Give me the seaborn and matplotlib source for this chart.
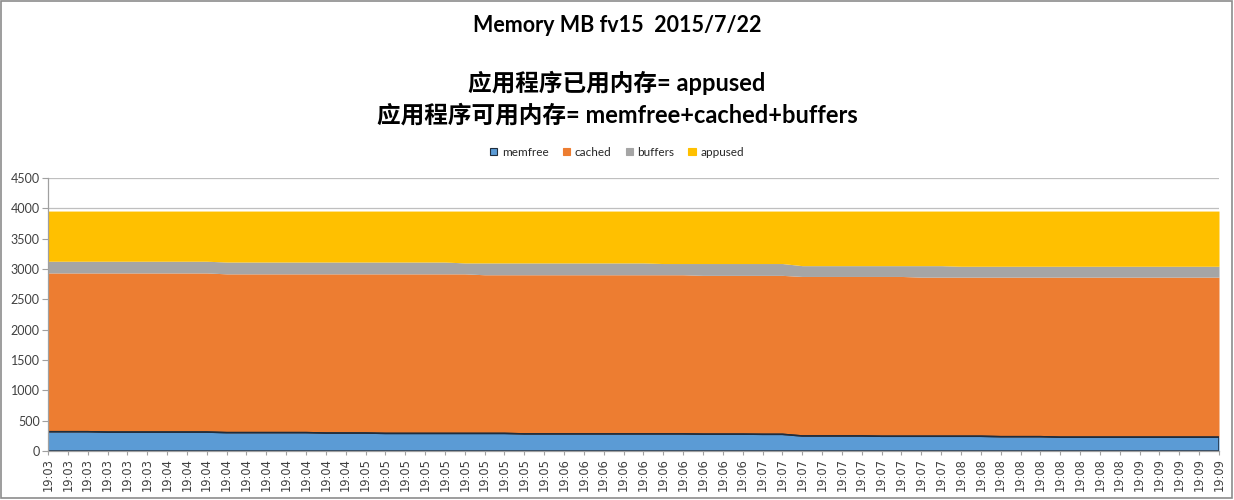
import matplotlib
matplotlib.use("Agg")
import matplotlib.pyplot as plt
from matplotlib.patches import Rectangle
import seaborn as sns
import numpy as np
import pandas as pd

# sample times (one label per sample)
times = (["19:03"] * 6 + ["19:04"] * 10 + ["19:05"] * 10 + ["19:06"] * 10
         + ["19:07"] * 10 + ["19:08"] * 9 + ["19:09"] * 5)

memfree = [318, 318, 318, 312, 312, 312, 312, 312, 312, 303,
           303, 303, 303, 303, 296, 296, 296, 290, 290, 290,
           290, 290, 290, 290, 282, 282, 282, 282, 282, 282,
           282, 282, 282, 278, 278, 278, 275, 275, 248, 248,
           248, 248, 243, 243, 243, 243, 243, 243, 236, 236,
           236, 228, 228, 228, 228, 228, 228, 228, 228, 228]

cached = [2617, 2617, 2617, 2623, 2623, 2623, 2623, 2623, 2623, 2617,
          2617, 2617, 2617, 2617, 2624, 2624, 2624, 2630, 2630, 2630,
          2630, 2630, 2615, 2615, 2623, 2623, 2623, 2623, 2623, 2623,
          2623, 2623, 2623, 2617, 2617, 2617, 2620, 2620, 2629, 2629,
          2629, 2629, 2634, 2634, 2623, 2623, 2623, 2623, 2630, 2630,
          2630, 2638, 2638, 2638, 2638, 2638, 2638, 2638, 2638, 2638]

buffers = [193, 193, 193, 193, 193, 193, 193, 193, 193, 195,
           195, 195, 195, 195, 195, 195, 195, 195, 195, 195,
           195, 180, 195, 195, 195, 195, 195, 195, 195, 195,
           195, 185, 185, 195, 195, 195, 195, 195, 178, 178,
           178, 178, 178, 178, 189, 189, 179, 179, 179, 179,
           179, 179, 179, 179, 179, 179, 179, 179, 179, 179]

appused = [827, 827, 827, 827, 827, 827, 827, 827, 827, 840,
           840, 840, 840, 840, 840, 840, 840, 840, 840, 840,
           840, 855, 855, 855, 855, 855, 855, 855, 855, 855,
           855, 865, 865, 865, 865, 865, 865, 865, 900, 900,
           900, 900, 900, 900, 900, 900, 910, 910, 910, 910,
           910, 910, 910, 910, 910, 910, 910, 910, 910, 910]

series = ["memfree", "cached", "buffers", "appused"]
colors = ["#5B9BD5", "#ED7D31", "#A5A5A5", "#FFC000"]

df = pd.DataFrame({"memfree": memfree, "cached": cached,
                   "buffers": buffers, "appused": appused})
df["x"] = np.arange(len(df))

sns.set_theme(style="whitegrid")
plt.rcParams["font.family"] = ["Lato", "Noto Sans CJK SC", "DejaVu Sans"]

fig = plt.figure(figsize=(12.34, 5), dpi=100)
ax = fig.add_axes([48 / 1234, 1 - 451 / 500, (1219 - 48) / 1234, (451 - 178) / 500])

ax.stackplot(df["x"], [df[s] for s in series], colors=colors, labels=series,
             linewidth=0)

# dark outline around the memfree band, like the original
ax.fill_between(df["x"], 0, df["memfree"], facecolor="none",
                edgecolor="#1F2D3D", linewidth=1.1)
sns.lineplot(x=df["x"], y=df["memfree"], ax=ax, color="#1F2D3D", linewidth=1.1,
             legend=False)

ax.set_xlim(0, len(df) - 1)
ax.set_ylim(0, 4500)
ax.set_yticks(np.arange(0, 4501, 500))
ax.set_xticks(df["x"])
ax.set_xticklabels(times, rotation=90, fontsize=8.3, color="#404040",
                   family=["DejaVu Sans"])
ax.tick_params(axis="y", labelsize=9, colors="#404040", length=4, width=0.8,
               direction="out", left=True, pad=2)
ax.tick_params(axis="x", length=3, width=0.8, direction="out", bottom=True,
               pad=2)
ax.tick_params(axis="y", color="#A0A0A0")
ax.tick_params(axis="x", color="#A0A0A0")
ax.set_xlabel("")
ax.set_ylabel("")
ax.grid(axis="y", color="#BFBFBF", linewidth=0.9)
ax.grid(axis="x", visible=False)
ax.set_axisbelow(True)
for side in ["top", "right"]:
    ax.spines[side].set_visible(False)
for side in ["left", "bottom"]:
    ax.spines[side].set_color("#A0A0A0")
    ax.spines[side].set_linewidth(0.9)

# titles
fig.text(0.5, 1 - 25 / 500, "Memory MB fv15  2015/7/22", ha="center",
         va="center", fontsize=15.5, fontweight="bold", color="black")
fig.text(0.5, 1 - 83 / 500, "应用程序已用内存= appused", ha="center",
         va="center", fontsize=17, fontweight="bold", color="black")
fig.text(0.5, 1 - 115 / 500, "应用程序可用内存= memfree+cached+buffers",
         ha="center", va="center", fontsize=17, fontweight="bold", color="black")

handles = [Rectangle((0, 0), 1, 1, facecolor=c,
                     edgecolor="#1F2D3D" if s == "memfree" else c, linewidth=0.8)
           for s, c in zip(series, colors)]
fig.legend(handles, series, loc="center", bbox_to_anchor=(0.5, 1 - 152 / 500),
           ncol=4, frameon=False, fontsize=8.5, handlelength=0.6,
           handleheight=0.6, handletextpad=0.4, columnspacing=1.2)

# chart border
fig.patches.append(Rectangle((0.001, 0.004), 0.997, 0.994, transform=fig.transFigure,
                             fill=False, edgecolor="#8C8C8C", linewidth=1.2))

fig.savefig("out.png", dpi=100, facecolor="white")
